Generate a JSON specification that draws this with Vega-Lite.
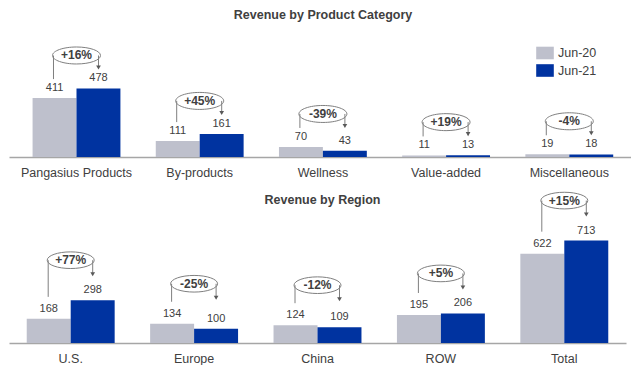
{
  "$schema": "https://vega.github.io/schema/vega-lite/v6.json",
  "padding": {"left": 9, "top": 8, "right": 0, "bottom": 0},
  "background": "white",
  "config": {
    "font": "Liberation Sans",
    "view": {"stroke": null},
    "concat": {"spacing": 6},
    "title": {"fontSize": 12.5, "fontWeight": "bold", "color": "#404040", "offset": 7, "anchor": "middle"},
    "axisX": {"title": null, "ticks": false, "tickSize": 0, "labelPadding": 9, "labelFontSize": 12.5, "labelColor": "#404040", "domainColor": "#A6A6A6", "domainWidth": 1.5, "labelAngle": 0, "grid": false}
  },
  "datasets": {
    "cat": [
      {"category": "Pangasius Products", "period": "Jun-20", "value": 411, "change": "+16%"},
      {"category": "Pangasius Products", "period": "Jun-21", "value": 478, "change": "+16%"},
      {"category": "By-products", "period": "Jun-20", "value": 111, "change": "+45%"},
      {"category": "By-products", "period": "Jun-21", "value": 161, "change": "+45%"},
      {"category": "Wellness", "period": "Jun-20", "value": 70, "change": "-39%"},
      {"category": "Wellness", "period": "Jun-21", "value": 43, "change": "-39%"},
      {"category": "Value-added", "period": "Jun-20", "value": 11, "change": "+19%"},
      {"category": "Value-added", "period": "Jun-21", "value": 13, "change": "+19%"},
      {"category": "Miscellaneous", "period": "Jun-20", "value": 19, "change": "-4%"},
      {"category": "Miscellaneous", "period": "Jun-21", "value": 18, "change": "-4%"}
    ],
    "reg": [
      {"category": "U.S.", "period": "Jun-20", "value": 168, "change": "+77%"},
      {"category": "U.S.", "period": "Jun-21", "value": 298, "change": "+77%"},
      {"category": "Europe", "period": "Jun-20", "value": 134, "change": "-25%"},
      {"category": "Europe", "period": "Jun-21", "value": 100, "change": "-25%"},
      {"category": "China", "period": "Jun-20", "value": 124, "change": "-12%"},
      {"category": "China", "period": "Jun-21", "value": 109, "change": "-12%"},
      {"category": "ROW", "period": "Jun-20", "value": 195, "change": "+5%"},
      {"category": "ROW", "period": "Jun-21", "value": 206, "change": "+5%"},
      {"category": "Total", "period": "Jun-20", "value": 622, "change": "+15%"},
      {"category": "Total", "period": "Jun-21", "value": 713, "change": "+15%"}
    ]
  },
  "resolve": {"scale": {"x": "independent", "y": "independent", "xOffset": "independent", "color": "independent"}, "legend": {"color": "independent"}},
  "vconcat": [
    {
      "width": 622,
      "height": 129,
      "title": {"text": "Revenue by Product Category", "dx": 3},
      "data": {"name": "cat"},
      "encoding": {
        "x": {"field": "category", "type": "nominal", "sort": ["Pangasius Products", "By-products", "Wellness", "Value-added", "Miscellaneous"], "scale": {"paddingInner": 0.2869, "paddingOuter": 0.1678, "align": 0.57}}
      },
      "layer": [
        {
          "mark": {"type": "bar"},
          "encoding": {
            "xOffset": {"field": "period", "type": "nominal", "sort": ["Jun-20", "Jun-21"], "scale": {"paddingInner": 0, "paddingOuter": 0}},
            "y": {"field": "value", "type": "quantitative", "scale": {"domain": [0, 872]}, "axis": null},
            "color": {"field": "period", "type": "nominal", "scale": {"domain": ["Jun-20", "Jun-21"], "range": ["#BEC0CC", "#0033A0"]},
              "legend": {"orient": "none", "legendX": 527, "legendY": 16, "title": null, "symbolType": "M-1,-0.716H1V0.716H-1Z", "symbolSize": 310, "symbolStrokeWidth": 0, "labelFontSize": 12.5, "labelColor": "#404040", "labelOffset": 4, "rowPadding": 1.5, "padding": 0}}
          }
        },
        {
          "mark": {"type": "text", "dy": -10, "fontSize": 11, "color": "#404040", "baseline": "middle"},
          "encoding": {
            "xOffset": {"field": "period", "type": "nominal", "sort": ["Jun-20", "Jun-21"]},
            "y": {"field": "value", "type": "quantitative", "axis": null},
            "text": {"field": "value", "type": "quantitative"}
          }
        },
        {
          "transform": [
            {"pivot": "period", "value": "value", "groupby": ["category", "change"]},
            {"calculate": "max(datum['Jun-20'], datum['Jun-21'])", "as": "maxv"}
          ],
          "layer": [
            {
              "mark": {"type": "point", "shape": "M-1,0C-1,-0.1955,-0.5523,-0.354,0,-0.354C0.5523,-0.354,1,-0.1955,1,0C1,0.1955,0.5523,0.354,0,0.354C-0.5523,0.354,-1,0.1955,-1,0Z", "size": 2304, "filled": false, "stroke": "#7F7F7F", "strokeWidth": 1, "opacity": 1, "yOffset": -33},
              "encoding": {"y": {"field": "maxv", "type": "quantitative", "axis": null}}
            },
            {
              "mark": {"type": "text", "fontSize": 12, "fontWeight": "bold", "color": "#404040", "baseline": "middle", "yOffset": -33},
              "encoding": {"y": {"field": "maxv", "type": "quantitative", "axis": null}, "text": {"field": "change", "type": "nominal"}}
            },
            {
              "mark": {"type": "rule", "color": "#7F7F7F", "strokeWidth": 1, "xOffset": -23, "yOffset": -19, "y2Offset": -33},
              "encoding": {"y": {"field": "Jun-20", "type": "quantitative", "axis": null}, "y2": {"field": "maxv"}}
            },
            {
              "mark": {"type": "rule", "color": "#7F7F7F", "strokeWidth": 1, "xOffset": 22, "yOffset": -33, "y2Offset": -21},
              "encoding": {"y": {"field": "maxv", "type": "quantitative", "axis": null}, "y2": {"field": "maxv"}}
            },
            {
              "mark": {"type": "point", "shape": "triangle-down", "size": 22, "filled": true, "color": "#595959", "opacity": 1, "xOffset": 22, "yOffset": -21},
              "encoding": {"y": {"field": "maxv", "type": "quantitative", "axis": null}}
            }
          ]
        }
      ]
    },
    {
      "width": 617,
      "height": 158,
      "title": {"text": "Revenue by Region", "dx": 5, "offset": -21.5},
      "data": {"name": "reg"},
      "encoding": {
        "x": {"field": "category", "type": "nominal", "sort": ["U.S.", "Europe", "China", "ROW", "Total"], "scale": {"paddingInner": 0.2874, "paddingOuter": 0.1437, "align": 0.5}}
      },
      "layer": [
        {
          "mark": {"type": "bar"},
          "encoding": {
            "xOffset": {"field": "period", "type": "nominal", "sort": ["Jun-20", "Jun-21"], "scale": {"paddingInner": 0, "paddingOuter": 0}},
            "y": {"field": "value", "type": "quantitative", "scale": {"domain": [0, 1077]}, "axis": null},
            "color": {"field": "period", "type": "nominal", "scale": {"domain": ["Jun-20", "Jun-21"], "range": ["#BEC0CC", "#0033A0"]}, "legend": null}
          }
        },
        {
          "mark": {"type": "text", "dy": -10, "fontSize": 11, "color": "#404040", "baseline": "middle"},
          "encoding": {
            "xOffset": {"field": "period", "type": "nominal", "sort": ["Jun-20", "Jun-21"]},
            "y": {"field": "value", "type": "quantitative", "axis": null},
            "text": {"field": "value", "type": "quantitative"}
          }
        },
        {
          "transform": [
            {"pivot": "period", "value": "value", "groupby": ["category", "change"]},
            {"calculate": "max(datum['Jun-20'], datum['Jun-21'])", "as": "maxv"}
          ],
          "layer": [
            {
              "mark": {"type": "point", "shape": "M-1,0C-1,-0.1955,-0.5523,-0.354,0,-0.354C0.5523,-0.354,1,-0.1955,1,0C1,0.1955,0.5523,0.354,0,0.354C-0.5523,0.354,-1,0.1955,-1,0Z", "size": 2209, "filled": false, "stroke": "#7F7F7F", "strokeWidth": 1, "opacity": 1, "yOffset": -40},
              "encoding": {"y": {"field": "maxv", "type": "quantitative", "axis": null}}
            },
            {
              "mark": {"type": "text", "fontSize": 12, "fontWeight": "bold", "color": "#404040", "baseline": "middle", "yOffset": -40},
              "encoding": {"y": {"field": "maxv", "type": "quantitative", "axis": null}, "text": {"field": "change", "type": "nominal"}}
            },
            {
              "mark": {"type": "rule", "color": "#7F7F7F", "strokeWidth": 1, "xOffset": -22.5, "yOffset": -22, "y2Offset": -40},
              "encoding": {"y": {"field": "Jun-20", "type": "quantitative", "axis": null}, "y2": {"field": "maxv"}}
            },
            {
              "mark": {"type": "rule", "color": "#7F7F7F", "strokeWidth": 1, "xOffset": 22, "yOffset": -40, "y2Offset": -26},
              "encoding": {"y": {"field": "maxv", "type": "quantitative", "axis": null}, "y2": {"field": "maxv"}}
            },
            {
              "mark": {"type": "point", "shape": "triangle-down", "size": 22, "filled": true, "color": "#595959", "opacity": 1, "xOffset": 22, "yOffset": -26},
              "encoding": {"y": {"field": "maxv", "type": "quantitative", "axis": null}}
            }
          ]
        }
      ]
    }
  ]
}
